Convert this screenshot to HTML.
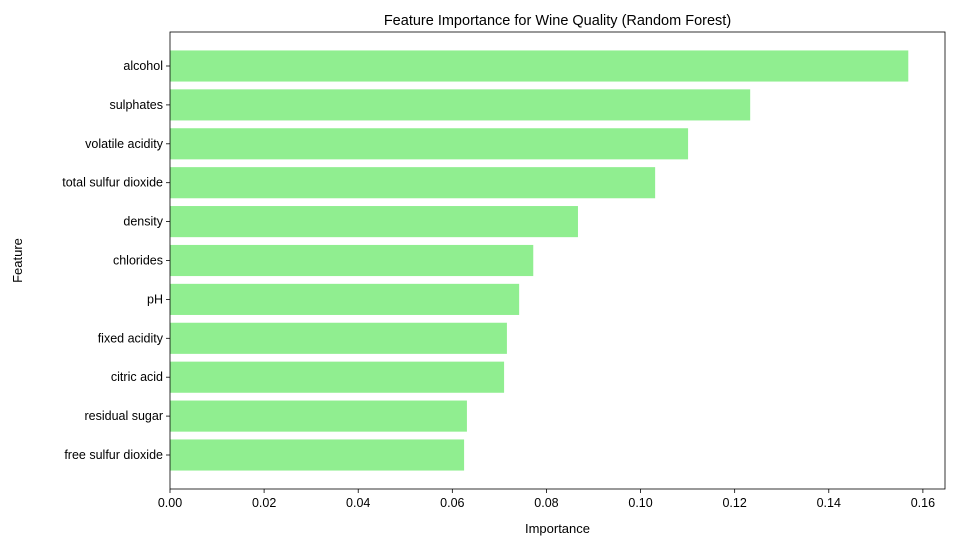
<!DOCTYPE html>
<html><head><meta charset="utf-8"><style>
body{margin:0;background:#fff;font-family:"Liberation Sans",sans-serif;}
svg text{font-family:"Liberation Sans",sans-serif;fill:#000;}
</style></head><body>
<svg id="chart" width="954" height="545"></svg>
<script>
const features = ["alcohol","sulphates","volatile acidity","total sulfur dioxide","density","chlorides","pH","fixed acidity","citric acid","residual sugar","free sulfur dioxide"];
const importances = [0.1569,0.1233,0.1101,0.1031,0.0867,0.0772,0.0742,0.0716,0.0710,0.0631,0.0625];
const xTicks = [0,0.02,0.04,0.06,0.08,0.10,0.12,0.14,0.16];
const xTickLabels = ["0.00","0.02","0.04","0.06","0.08","0.10","0.12","0.14","0.16"];

const svg = document.getElementById('chart');
const NS = 'http://www.w3.org/2000/svg';
const L=170,R=945,T=32,B=489;
const xMax = 0.1647;
const x = v => L + v/xMax*(R-L);
const n = features.length;
const yMin=-0.874, yMax=n-1+0.874;
const y = i => { const pos = n-1-i; return B - (pos - yMin)/(yMax-yMin)*(B-T); };
const bandPx = (B-T)/(yMax-yMin);
function mk(tag, attrs){const e=document.createElementNS(NS,tag);for(const k in attrs)e.setAttribute(k,attrs[k]);svg.appendChild(e);return e;}

features.forEach((f,i)=>{
  const h = bandPx*0.8;
  const r = mk('rect',{x:x(0),y:y(i)-h/2,width:x(importances[i])-x(0),height:h,fill:'#90ee90'});
  
  
  const tk = mk('line',{x1:L-4,x2:L,y1:y(i),y2:y(i),stroke:'#000','stroke-width':0.8});
  
  
  const t = mk('text',{x:L-7,y:y(i)+4,'text-anchor':'end','font-size':12.5});
  t.textContent=f;
  
  
});
xTicks.forEach((v,i)=>{
  const tk = mk('line',{x1:x(v),x2:x(v),y1:B,y2:B+4,stroke:'#000','stroke-width':0.8});
  
  
  const t = mk('text',{x:x(v),y:B+18,'text-anchor':'middle','font-size':12.5});
  t.textContent=xTickLabels[i];
  
  
});
const frame = mk('rect',{x:L,y:T,width:R-L,height:B-T,fill:'none',stroke:'#000','stroke-width':0.8});


const title = mk('text',{x:(L+R)/2,y:T-7,'text-anchor':'middle','font-size':14.5});
title.textContent='Feature Importance for Wine Quality (Random Forest)';


const xl = mk('text',{x:(L+R)/2,y:533,'text-anchor':'middle','font-size':13});
xl.textContent='Importance';


const yl = mk('text',{x:22,y:(T+B)/2,'text-anchor':'middle','font-size':13,transform:`rotate(-90 22 ${(T+B)/2})`});
yl.textContent='Feature';


</script>
</body></html>
